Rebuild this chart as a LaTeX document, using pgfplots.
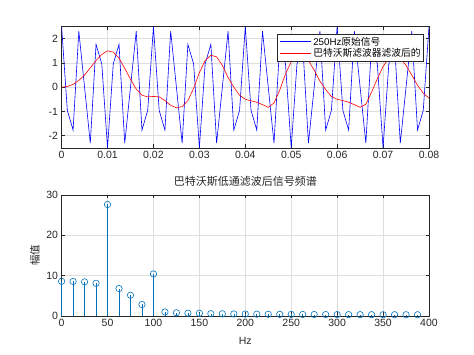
\documentclass[border=0pt]{standalone}
\usepackage{pgfplots}
\usepackage{pgfplotstable}
\pgfplotsset{compat=1.18}
\usepackage{fontspec}
\setmainfont{Liberation Sans}
\newfontfamily\cjk{Noto Sans CJK SC}
\definecolor{axc}{rgb}{0.15,0.15,0.15}
\definecolor{gridc}{rgb}{0.87,0.87,0.87}
\definecolor{mblue}{rgb}{0,0.447,0.741}
\newcommand{\lgline}[1]{\textcolor{#1}{\rule[0.32em]{31bp}{0.6bp}}\hspace{2bp}}
\begin{document}
\begin{tikzpicture}
\useasboundingbox (0,0) rectangle (474bp,355bp);
\pgfplotsset{
  every axis/.append style={
    scale only axis, width=367.4bp, height=121.2bp,
    axis line style={axc, line width=0.5bp},
    every tick/.append style={axc, line width=0.5bp},
    major tick length=3.5bp,
    tick align=inside, tick pos=both,
    grid=major, grid style={gridc, line width=0.5bp},
    tick label style={font=\fontsize{10.5bp}{12bp}\selectfont, text=axc},
    scaled ticks=false,
  }
}
\begin{axis}[
  at={(61.6bp,207.2bp)}, anchor=south west,
  xmin=0, xmax=0.08, ymin=-2.5, ymax=2.5,
  xtick={0,0.01,0.02,0.03,0.04,0.05,0.06,0.07,0.08},
  xticklabels={0,0.01,0.02,0.03,0.04,0.05,0.06,0.07,0.08},
  ytick={-2,-1,0,1,2},
  yticklabels={-2,-1,0,1,2},
  legend cell align=left,
  legend image code/.code={},
  legend style={at={(axis description cs:0.985,0.94)}, anchor=north east,
    draw=axc, line width=0.5bp, fill=white,
    font=\fontsize{9.75bp}{10bp}\selectfont, inner sep=1.5bp, row sep=-0.5bp,
    nodes={inner sep=1.2bp}},
]
\addplot[blue, line width=0.6bp] coordinates {
(0,2.5) (0.00125,-0.957) (0.0025,-1.768) (0.00375,2.31) (0.005,0) (0.00625,-2.31) (0.0075,1.768) (0.00875,0.957)
(0.01,-2.5) (0.01125,0.957) (0.0125,1.768) (0.01375,-2.31) (0.015,0) (0.01625,2.31) (0.0175,-1.768) (0.01875,-0.957)
(0.02,2.5) (0.02125,-0.957) (0.0225,-1.768) (0.02375,2.31) (0.025,0) (0.02625,-2.31) (0.0275,1.768) (0.02875,0.957)
(0.03,-2.5) (0.03125,0.957) (0.0325,1.768) (0.03375,-2.31) (0.035,0) (0.03625,2.31) (0.0375,-1.768) (0.03875,-0.957)
(0.04,2.5) (0.04125,-0.957) (0.0425,-1.768) (0.04375,2.31) (0.045,0) (0.04625,-2.31) (0.0475,1.768) (0.04875,0.957)
(0.05,-2.5) (0.05125,0.957) (0.0525,1.768) (0.05375,-2.31) (0.055,0) (0.05625,2.31) (0.0575,-1.768) (0.05875,-0.957)
(0.06,2.5) (0.06125,-0.957) (0.0625,-1.768) (0.06375,2.31) (0.065,0) (0.06625,-2.31) (0.0675,1.768) (0.06875,0.957)
(0.07,-2.5) (0.07125,0.957) (0.0725,1.768) (0.07375,-2.31) (0.075,0) (0.07625,2.31) (0.0775,-1.768) (0.07875,-0.957)
(0.08,2.5)
};
\addplot[red, line width=0.6bp] coordinates {
(0,0) (0.00125,0.03) (0.0025,0.12) (0.00375,0.28) (0.005,0.5) (0.00625,0.8) (0.0075,1.1) (0.00875,1.35)
(0.01,1.5) (0.01125,1.45) (0.0125,1.2) (0.01375,0.78) (0.015,0.33) (0.01625,-0.08) (0.0175,-0.33) (0.01875,-0.4)
(0.02,-0.38) (0.02125,-0.4) (0.0225,-0.55) (0.02375,-0.75) (0.025,-0.85) (0.02625,-0.8) (0.0275,-0.55) (0.02875,-0.05)
(0.03,0.6) (0.03125,1.1) (0.0325,1.32) (0.03375,1.25) (0.035,0.9) (0.03625,0.4) (0.0375,0.0) (0.03875,-0.33)
(0.04,-0.5) (0.04125,-0.56) (0.0425,-0.62) (0.04375,-0.72) (0.045,-0.83) (0.04625,-0.65) (0.0475,-0.12) (0.04875,0.55)
(0.05,1.05) (0.05125,1.3) (0.0525,1.33) (0.05375,1.1) (0.055,0.7) (0.05625,0.25) (0.0575,-0.1) (0.05875,-0.38)
(0.06,-0.5) (0.06125,-0.55) (0.0625,-0.62) (0.06375,-0.72) (0.065,-0.83) (0.06625,-0.7) (0.0675,-0.2) (0.06875,0.35)
(0.07,0.85) (0.07125,1.2) (0.0725,1.33) (0.07375,1.2) (0.075,0.9) (0.07625,0.5) (0.0775,0.08) (0.07875,-0.25)
(0.08,-0.45)
};
\legend{\lgline{blue}250Hz\cjk{原始信号}, \lgline{red}\cjk{巴特沃斯滤波器滤波后的}}
\end{axis}
\begin{axis}[
  at={(61.6bp,39bp)}, anchor=south west,
  xmin=0, xmax=400, ymin=0, ymax=30,
  clip=false, unbounded coords=jump,
  xtick={0,50,100,150,200,250,300,350,400},
  xticklabels={0,50,100,150,200,250,300,350,400},
  ytick={0,10,20,30},
  yticklabels={0,10,20,30},
  title={\cjk 巴特沃斯低通滤波后信号频谱},
  title style={font=\fontsize{11bp}{12bp}\selectfont, text=axc, at={(axis description cs:0.5,1.059)}, anchor=center},
  xlabel={Hz},
  xlabel style={font=\fontsize{10.5bp}{12bp}\selectfont, text=axc, at={(axis description cs:0.5,-0.206)}, anchor=center},
  ylabel={\cjk 幅值},
  ylabel style={font=\fontsize{10.5bp}{12bp}\selectfont, text=axc, at={(axis description cs:-0.0724,0.5)}, anchor=center},
]
\addplot[mblue, line width=0.6bp, no marks] coordinates {
(0,0) (0,8.6) (0,nan) (12.5,0) (12.5,8.55) (12.5,nan) (25,0) (25,8.45) (25,nan) (37.5,0) (37.5,8.1) (37.5,nan)
(50,0) (50,27.6) (50,nan) (62.5,0) (62.5,6.8) (62.5,nan) (75,0) (75,5.15) (75,nan) (87.5,0) (87.5,2.85) (87.5,nan)
(100,0) (100,10.4) (100,nan) (112.5,0) (112.5,1.0) (112.5,nan) (125,0) (125,0.8) (125,nan) (137.5,0) (137.5,0.7) (137.5,nan)
(150,0) (150,0.68) (150,nan) (162.5,0) (162.5,0.58) (162.5,nan) (175,0) (175,0.55) (175,nan) (187.5,0) (187.5,0.52) (187.5,nan)
(200,0) (200,0.48) (200,nan) (212.5,0) (212.5,0.45) (212.5,nan) (225,0) (225,0.43) (225,nan) (237.5,0) (237.5,0.41) (237.5,nan)
(250,0) (250,0.4) (250,nan) (262.5,0) (262.5,0.38) (262.5,nan) (275,0) (275,0.37) (275,nan) (287.5,0) (287.5,0.36) (287.5,nan)
(300,0) (300,0.35) (300,nan) (312.5,0) (312.5,0.34) (312.5,nan) (325,0) (325,0.33) (325,nan) (337.5,0) (337.5,0.33) (337.5,nan)
(350,0) (350,0.32) (350,nan) (362.5,0) (362.5,0.32) (362.5,nan) (375,0) (375,0.31) (375,nan) (387.5,0) (387.5,0.31)
};
\addplot[mblue, only marks, mark=o, mark size=3.2bp, mark options={solid, line width=0.6bp}] coordinates {
(0,8.6) (12.5,8.55) (25,8.45) (37.5,8.1) (50,27.6) (62.5,6.8) (75,5.15) (87.5,2.85)
(100,10.4) (112.5,1.0) (125,0.8) (137.5,0.7) (150,0.68) (162.5,0.58) (175,0.55) (187.5,0.52)
(200,0.48) (212.5,0.45) (225,0.43) (237.5,0.41) (250,0.4) (262.5,0.38) (275,0.37) (287.5,0.36)
(300,0.35) (312.5,0.34) (325,0.33) (337.5,0.33) (350,0.32) (362.5,0.32) (375,0.31) (387.5,0.31)
};
\end{axis}
\end{tikzpicture}
\end{document}
